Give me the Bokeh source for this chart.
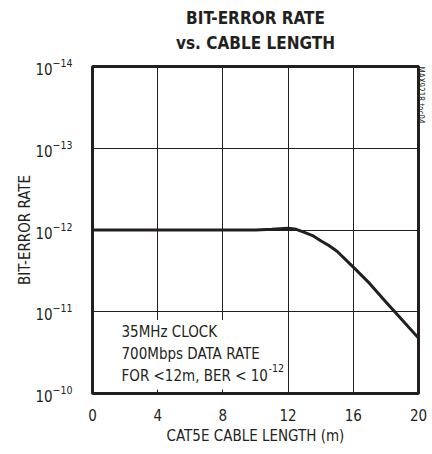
import math
from bokeh.plotting import figure
from bokeh.models import Range1d, FixedTicker, Label, BoxAnnotation, Title, LinearAxis
from bokeh.embed import file_html
from bokeh.resources import INLINE

# ---- data ----
cable_length_m = [0, 2, 4, 6, 8, 10, 11, 12, 12.5, 13, 13.5, 14, 14.5, 15, 16, 17, 18, 19, 20]
bit_error_rate = [1.0e-12, 1.0e-12, 1.0e-12, 1.0e-12, 1.0e-12, 1.0e-12, 0.98e-12, 0.95e-12,
                  0.98e-12, 1.07e-12, 1.17e-12, 1.35e-12, 1.55e-12, 1.82e-12, 2.85e-12,
                  4.5e-12, 7.6e-12, 1.26e-11, 2.1e-11]
x_ticks = [0, 4, 8, 12, 16, 20]
y_ticks = [1e-14, 1e-13, 1e-12, 1e-11, 1e-10]
title_lines = ["BIT-ERROR RATE", "vs. CABLE LENGTH"]
note_lines = ["35MHz CLOCK", "700Mbps DATA RATE", "FOR <12m, BER < 10"]
note_sup = "-12"
side_id = "MAX9218 toc04"

FONT = "DejaVu Sans Condensed"
INK = "#231f20"

p = figure(width=432, height=454, output_backend="svg", toolbar_location=None,
           title=None, y_axis_type="log",
           x_range=Range1d(0, 20), y_range=Range1d(1e-10, 1e-14),
           min_border_left=92, min_border_right=14, min_border_top=66, min_border_bottom=61)

p.outline_line_color = INK
p.outline_line_width = 3
p.background_fill_color = "white"
p.border_fill_color = "white"

# grid
p.xaxis.ticker = FixedTicker(ticks=x_ticks)
p.yaxis.ticker = FixedTicker(ticks=y_ticks)
p.xgrid.grid_line_color = INK
p.xgrid.grid_line_width = 1
p.ygrid.grid_line_color = INK
p.ygrid.grid_line_width = 1
p.ygrid.minor_grid_line_color = None

# x axis
xa = p.xaxis[0]
xa.axis_line_color = None
xa.major_tick_line_color = None
xa.minor_tick_line_color = None
xa.major_label_text_font = FONT
xa.major_label_text_font_size = "15px"
xa.major_label_text_color = INK
xa.major_label_standoff = 9
xa.axis_label = "CAT5E CABLE LENGTH (m)"
xa.axis_label_text_font = FONT
xa.axis_label_text_font_size = "15px"
xa.axis_label_text_font_style = "normal"
xa.axis_label_text_color = INK
xa.axis_label_standoff = 3

# y axis (log formatter gives 10 with superscript exponent)
ya = p.yaxis[0]
ya.axis_line_color = None
ya.major_tick_line_color = None
ya.minor_tick_line_color = None
ya.major_label_text_font = FONT
ya.major_label_text_font_size = "15px"
ya.major_label_text_color = INK
ya.major_label_standoff = 14
ya.axis_label = "BIT-ERROR RATE"
ya.axis_label_text_font = FONT
ya.axis_label_text_font_size = "15px"
ya.axis_label_text_font_style = "normal"
ya.axis_label_text_color = INK
ya.axis_label_standoff = -2

# title lines: first added sits closest to the frame
p.add_layout(Title(text=title_lines[1], align="center", text_font=FONT, text_font_style="bold",
                   text_font_size="17px", text_color=INK, standoff=28), "above")
p.add_layout(Title(text=title_lines[0], align="center", text_font=FONT, text_font_style="bold",
                   text_font_size="17px", text_color=INK, standoff=-23), "above")

# side id text on the right
side = LinearAxis(ticker=FixedTicker(ticks=[]), axis_line_color=None,
                  major_tick_line_color=None, minor_tick_line_color=None,
                  major_label_text_font_size="0px", axis_label=side_id,
                  axis_label_text_font=FONT, axis_label_text_font_size="8px",
                  axis_label_text_font_style="normal", axis_label_text_color=INK,
                  axis_label_standoff=2)
try:
    side.axis_label_orientation = -math.pi / 2
except Exception:
    pass
if "axis_label_align" in LinearAxis.properties():
    side.axis_label_align = "start"
p.add_layout(side, "right")

# note box
p.add_layout(BoxAnnotation(left=1.0, right=11.6, bottom=10 ** -10.05, top=10 ** -10.9,
                           fill_color="white", fill_alpha=1.0, line_color=None))
for i, line in enumerate(note_lines):
    p.add_layout(Label(x=0, y=1e-10, text=line, x_offset=29, y_offset=62 - 22 * i,
                       text_align="left", text_baseline="alphabetic",
                       text_font=FONT, text_font_size="15px", text_color=INK))
p.add_layout(Label(x=0, y=1e-10, text=note_sup, x_offset=176, y_offset=26,
                   text_align="left", text_baseline="alphabetic",
                   text_font=FONT, text_font_size="10.5px", text_color=INK))

# curve
p.line(cable_length_m, bit_error_rate, line_color=INK, line_width=3, line_join="round")

open("out.html", "w").write(file_html(p, INLINE))
